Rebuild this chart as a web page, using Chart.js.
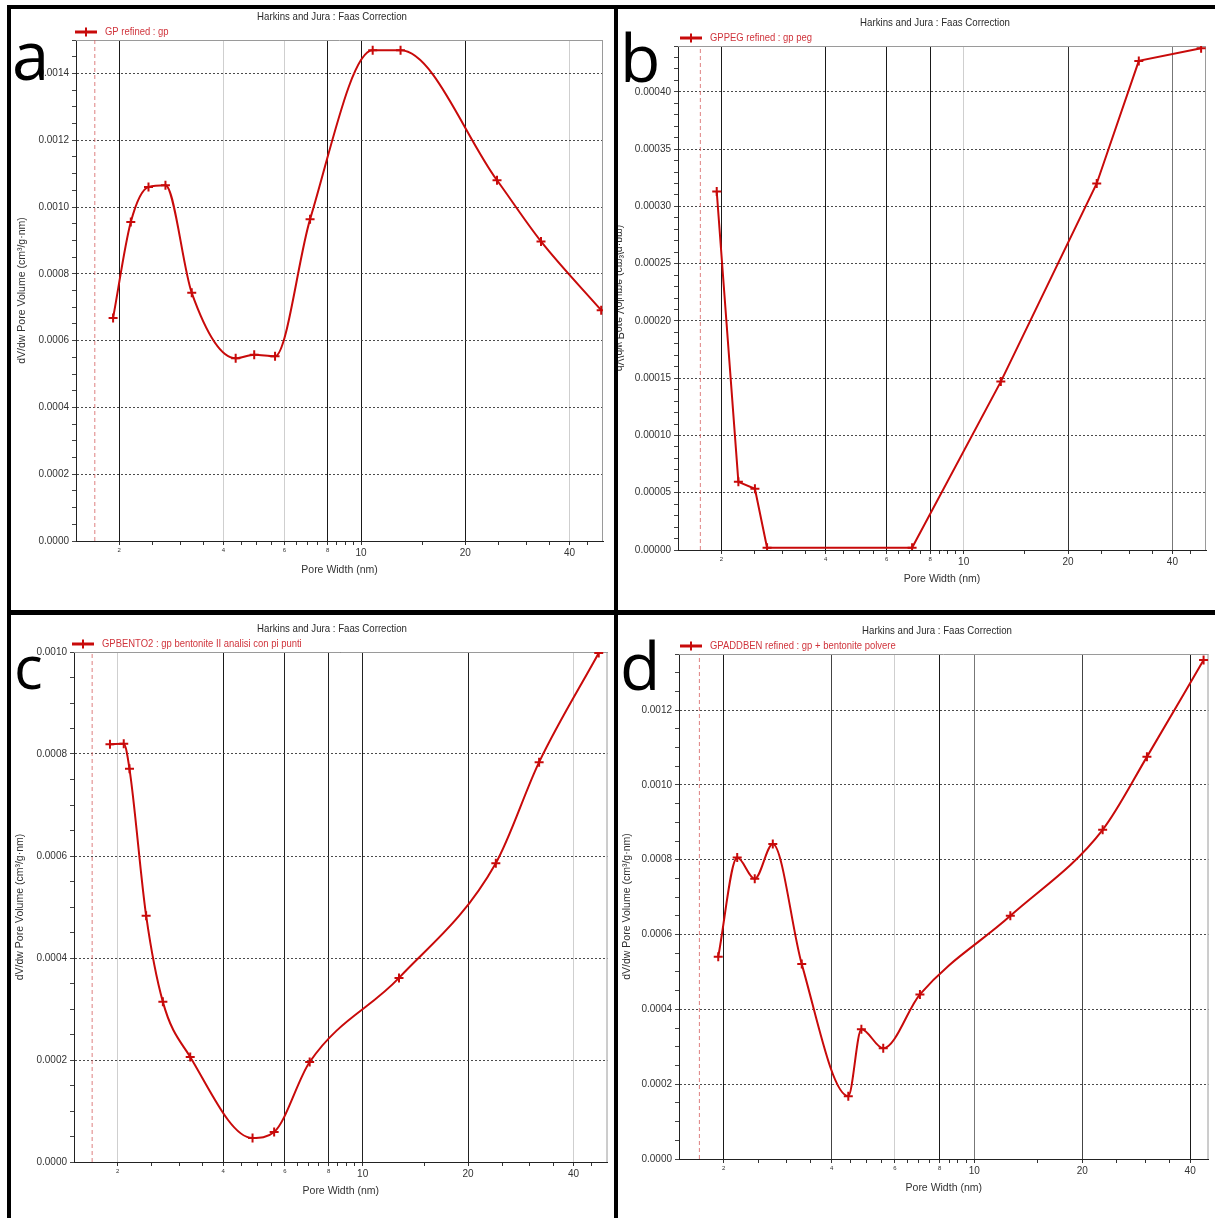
<!DOCTYPE html>
<html>
<head>
<meta charset="utf-8">
<script src="https://cdn.jsdelivr.net/npm/chart.js@4.4.1/dist/chart.umd.min.js"></script>
<style>
  html, body { margin: 0; padding: 0; background: #fff; }
  #sheet { position: relative; width: 1215px; height: 1218px; overflow: hidden; background: #fff; }
  #sheet canvas { position: absolute; }
  .rule { position: absolute; background: #000; }
</style>
</head>
<body>
<div id="sheet">
  <canvas id="panelA" width="603" height="601" style="left:11px;top:9px"></canvas>
  <canvas id="panelB" width="597" height="601" style="left:618px;top:9px"></canvas>
  <canvas id="panelC" width="603" height="603" style="left:11px;top:615px"></canvas>
  <canvas id="panelD" width="597" height="603" style="left:618px;top:615px"></canvas>
  <div class="rule" style="left:7px;top:5px;width:1208px;height:4px"></div>
  <div class="rule" style="left:7px;top:5px;width:4px;height:1213px"></div>
  <div class="rule" style="left:614px;top:5px;width:4px;height:1213px"></div>
  <div class="rule" style="left:7px;top:610px;width:1208px;height:5px"></div>
</div>
<script>
// Pore width (nm) and dV/dw pore volume (cm³/g·nm) of each sample
const widthGP = [1.92, 2.16, 2.43, 2.72, 3.24, 4.34, 4.91, 5.64, 7.12, 10.8, 13.0, 24.7, 33.1, 49.4];
const volumeGP = [0.000668, 0.000955, 0.00106, 0.001065, 0.000743, 0.000547, 0.000558, 0.000553, 0.000963, 0.001469, 0.001469, 0.00108, 0.000897, 0.000691];

const widthGPPEG = [1.94, 2.24, 2.50, 2.71, 7.10, 12.8, 24.2, 32.0, 48.4];
const volumeGPPEG = [0.000313, 0.0000595, 0.0000534, 0.000002, 0.000002, 0.000147, 0.00032, 0.000427, 0.000438];

const widthGPBENTO2 = [1.90, 2.08, 2.16, 2.41, 2.69, 3.22, 4.85, 5.59, 7.06, 12.7, 24.0, 31.9, 47.2];
const volumeGPBENTO2 = [0.000819, 0.00082, 0.000771, 0.000483, 0.000314, 0.000206, 0.000047, 0.0000588, 0.000196, 0.000361, 0.000586, 0.000784, 0.000998];

const widthGPADDBEN = [1.93, 2.18, 2.44, 2.74, 3.30, 4.45, 4.84, 5.57, 7.05, 12.6, 22.8, 30.3, 43.6];
const volumeGPADDBEN = [0.000541, 0.000806, 0.000749, 0.000842, 0.000521, 0.000168, 0.000347, 0.000296, 0.00044, 0.00065, 0.00088, 0.001075, 0.001334];

// lower pore-width limit of each analysis (dashed marker)
const limitWidth = [1.70, 1.74, 1.69, 1.71];

// axis ticks
const xMajorTicks = [2, 4, 6, 8, 10, 20, 40];
const xMinorTicks = [2.5, 3, 3.5, 4.5, 5, 5.5, 6.5, 7, 7.5, 8.5, 9, 9.5, 15, 25, 30, 35, 45];
const yTicksGP = [0, 0.0002, 0.0004, 0.0006, 0.0008, 0.0010, 0.0012, 0.0014];
const yTicksGPPEG = [0, 0.00005, 0.00010, 0.00015, 0.00020, 0.00025, 0.00030, 0.00035, 0.00040];
const yTicksGPBENTO2 = [0, 0.0002, 0.0004, 0.0006, 0.0008, 0.0010];
const yTicksGPADDBEN = [0, 0.0002, 0.0004, 0.0006, 0.0008, 0.0010, 0.0012];

const chartTitle = 'Harkins and Jura : Faas Correction';
const xTitle = 'Pore Width (nm)';
const yTitle = 'dV/dw Pore Volume (cm³/g·nm)';

const FONT = '"Liberation Sans Narrow", "Liberation Sans", Arial, sans-serif';
const LINE_RED = '#c80a0a';
const TEXT_RED = '#d0343c';
const X_AXIS_H = 40;

// narrow-set text: draws with a horizontal squeeze
function squeezedText(ctx, text, x, y, squeeze) {
  ctx.save();
  ctx.translate(x, y);
  ctx.scale(squeeze, 1);
  ctx.fillText(text, 0, 0);
  ctx.restore();
}

// frame, heading, legend key and panel letter
const panelDecor = {
  id: 'panelDecor',
  beforeDatasetsDraw(chart) {
    const a = chart.chartArea, ctx = chart.ctx;
    ctx.save();
    ctx.strokeStyle = '#9a9a9a';
    ctx.lineWidth = 1;
    ctx.beginPath();
    ctx.moveTo(a.left, a.top + 0.5); ctx.lineTo(a.right, a.top + 0.5);
    ctx.moveTo(a.right - 0.5, a.top); ctx.lineTo(a.right - 0.5, a.bottom);
    ctx.stroke();
    ctx.restore();
  },
  afterDraw(chart, args, o) {
    const ctx = chart.ctx, a = chart.chartArea;
    const ds = chart.data.datasets[0];
    ctx.save();
    ctx.font = `11.5px ${FONT}`;
    ctx.fillStyle = '#2a2a2a';
    ctx.textAlign = 'center';
    ctx.textBaseline = 'middle';
    squeezedText(ctx, o.title, o.titleAt[0], o.titleAt[1], 0.84);

    const [lx, ly] = o.legendAt;
    ctx.strokeStyle = ds.borderColor;
    ctx.lineWidth = 3;
    ctx.beginPath();
    ctx.moveTo(lx, ly); ctx.lineTo(lx + 22, ly);
    ctx.stroke();
    ctx.lineWidth = 2;
    ctx.beginPath();
    ctx.moveTo(lx + 11, ly - 4.5); ctx.lineTo(lx + 11, ly + 4.5);
    ctx.stroke();
    ctx.font = `11px ${FONT}`;
    ctx.fillStyle = TEXT_RED;
    ctx.textAlign = 'left';
    squeezedText(ctx, ds.label, lx + 30, ly, 0.86);

    if (o.mirroredTitle) {
      ctx.save();
      ctx.translate(o.mirroredTitle.x, (a.top + a.bottom) / 2);
      ctx.scale(-1, 1);
      ctx.rotate(-Math.PI / 2);
      ctx.font = `10.5px ${FONT}`;
      ctx.fillStyle = '#2e2e2e';
      ctx.textAlign = 'center';
      ctx.textBaseline = 'middle';
      ctx.fillText(o.mirroredTitle.text, 0, 0);
      ctx.restore();
    }

    ctx.font = `${o.letterSize}px "Open Sans", "Noto Sans", sans-serif`;
    ctx.fillStyle = '#000';
    ctx.textAlign = 'left';
    ctx.textBaseline = 'alphabetic';
    ctx.fillText(o.letter, o.letterAt[0], o.letterAt[1]);
    ctx.restore();
  }
};

function buildPanel(id, p) {
  const canvas = document.getElementById(id);
  const W = canvas.width, H = canvas.height;
  const near = (v, list) => list.some(t => Math.abs(t - v) < 1e-9);
  const yAll = [];
  const nMinor = Math.round(p.yMax / p.yMinorStep);
  for (let i = 0; i <= nMinor; i++) yAll.push(+(i * p.yMinorStep).toFixed(9));
  const xAll = xMajorTicks.concat(xMinorTicks).filter(v => v > p.xMin && v < p.xMax).sort((m, n) => m - n);

  const curve = p.smooth
    ? { cubicInterpolationMode: 'monotone' }
    : { cubicInterpolationMode: 'default', tension: 0 };

  return new Chart(canvas, {
    type: 'line',
    data: {
      datasets: [
        Object.assign({
          label: p.label,
          data: p.x.map((x, i) => ({ x, y: p.y[i] })),
          borderColor: LINE_RED,
          backgroundColor: LINE_RED,
          borderWidth: 2,
          pointStyle: 'cross',
          pointRadius: 4.5,
          pointBorderWidth: 2,
          pointBorderColor: LINE_RED,
          fill: false,
          order: 0
        }, curve),
        {
          label: 'limit',
          data: [{ x: p.limit, y: 0 }, { x: p.limit, y: p.yMax }],
          borderColor: 'rgba(214, 96, 96, 0.8)',
          borderWidth: 1,
          borderDash: [4, 3],
          pointRadius: 0,
          fill: false,
          order: 1
        }
      ]
    },
    options: {
      responsive: false,
      animation: false,
      events: [],
      layout: {
        padding: { left: 0, top: p.area.top, right: W - p.area.right, bottom: H - p.area.bottom - X_AXIS_H }
      },
      plugins: {
        legend: { display: false },
        title: { display: false },
        tooltip: { enabled: false },
        panelDecor: p.decor
      },
      scales: {
        x: {
          type: 'logarithmic',
          min: p.xMin,
          max: p.xMax,
          afterFit: s => { s.height = X_AXIS_H; },
          afterBuildTicks: s => { s.ticks = xAll.map(v => ({ value: v })); },
          ticks: {
            autoSkip: false,
            maxRotation: 0,
            minRotation: 0,
            padding: 2,
            color: '#333',
            font: c => ({ family: FONT, size: (c.tick && c.tick.value < 10) ? 6 : 10 }),
            callback: v => xMajorTicks.includes(v) ? String(v) : ''
          },
          grid: {
            color: c => {
              const k = xMajorTicks.indexOf(c.tick ? c.tick.value : -1);
              return k < 0 ? 'rgba(0,0,0,0)' : p.vGrid[k];
            },
            lineWidth: 1,
            tickLength: 4,
            tickColor: '#333'
          },
          border: { display: true, color: '#222', width: 1 },
          title: {
            display: true,
            text: xTitle,
            color: '#333',
            font: { family: FONT, size: 10.5 },
            padding: { top: 0, bottom: 4.7 }
          }
        },
        y: {
          type: 'linear',
          min: 0,
          max: p.yMax,
          afterFit: s => { s.width = p.area.left; },
          afterBuildTicks: s => { s.ticks = yAll.map(v => ({ value: v })); },
          ticks: {
            autoSkip: false,
            padding: 3,
            color: '#333',
            font: { family: FONT, size: 10 },
            callback: v => near(v, p.yTicks) ? v.toFixed(p.yDecimals) : ''
          },
          grid: {
            color: c => (c.tick && near(c.tick.value, p.yTicks)) ? 'rgba(55,55,55,0.9)' : 'rgba(0,0,0,0)',
            lineWidth: 1,
            tickLength: 4,
            tickColor: '#444'
          },
          border: { display: true, color: '#222', width: 1, dash: [2, 2] },
          title: {
            display: p.yTitleShown,
            text: yTitle,
            color: '#2e2e2e',
            font: { family: FONT, size: 10.5 },
            padding: { top: p.yTitlePad, bottom: 0 }
          }
        }
      }
    },
    plugins: [panelDecor]
  });
}

buildPanel('panelA', {
  label: 'GP refined : gp',
  x: widthGP, y: volumeGP, limit: limitWidth[0], smooth: true,
  xMin: 1.5, xMax: 50, yMax: 0.0015, yMinorStep: 0.00005, yTicks: yTicksGP, yDecimals: 4,
  area: { left: 65, top: 31, right: 592, bottom: 532 },
  yTitleShown: true, yTitlePad: 4.7,
  vGrid: ['#1a1a1a', '#cfcfcf', '#cfcfcf', '#1a1a1a', '#1a1a1a', '#1a1a1a', '#cfcfcf'],
  decor: { title: chartTitle, titleAt: [321, 8], legendAt: [64, 23], letter: 'a', letterSize: 67, letterAt: [1, 71] }
});

buildPanel('panelB', {
  label: 'GPPEG refined : gp peg',
  x: widthGPPEG, y: volumeGPPEG, limit: limitWidth[1], smooth: false,
  xMin: 1.5, xMax: 50, yMax: 0.00044, yMinorStep: 0.00001, yTicks: yTicksGPPEG, yDecimals: 5,
  area: { left: 60, top: 37, right: 588, bottom: 541 },
  yTitleShown: false, yTitlePad: 0,
  vGrid: ['#1a1a1a', '#1a1a1a', '#1a1a1a', '#1a1a1a', '#cfcfcf', '#333333', '#777777'],
  decor: { title: chartTitle, titleAt: [317, 14], legendAt: [62, 29], letter: 'b', letterSize: 66, letterAt: [2, 73],
           mirroredTitle: { text: yTitle, x: 1 } }
});

buildPanel('panelC', {
  label: 'GPBENTO2 : gp bentonite II analisi con pi punti',
  x: widthGPBENTO2, y: volumeGPBENTO2, limit: limitWidth[2], smooth: true,
  xMin: 1.5, xMax: 50, yMax: 0.0010, yMinorStep: 0.00005, yTicks: yTicksGPBENTO2, yDecimals: 4,
  area: { left: 63, top: 37, right: 599, bottom: 547 },
  yTitleShown: true, yTitlePad: 2.7,
  vGrid: ['#cfcfcf', '#1a1a1a', '#222222', '#222222', '#222222', '#222222', '#cfcfcf'],
  decor: { title: chartTitle, titleAt: [321, 14], legendAt: [61, 29], letter: 'c', letterSize: 60, letterAt: [3, 74] }
});

buildPanel('panelD', {
  label: 'GPADDBEN refined : gp + bentonite polvere',
  x: widthGPADDBEN, y: volumeGPADDBEN, limit: limitWidth[3], smooth: true,
  xMin: 1.5, xMax: 45, yMax: 0.00135, yMinorStep: 0.00005, yTicks: yTicksGPADDBEN, yDecimals: 4,
  area: { left: 61, top: 39, right: 593, bottom: 544 },
  yTitleShown: true, yTitlePad: 2.7,
  vGrid: ['#1a1a1a', '#444444', '#cfcfcf', '#1a1a1a', '#777777', '#444444', '#1a1a1a'],
  decor: { title: chartTitle, titleAt: [319, 16], legendAt: [62, 31], letter: 'd', letterSize: 66, letterAt: [2, 75] }
});
</script>
</body>
</html>
